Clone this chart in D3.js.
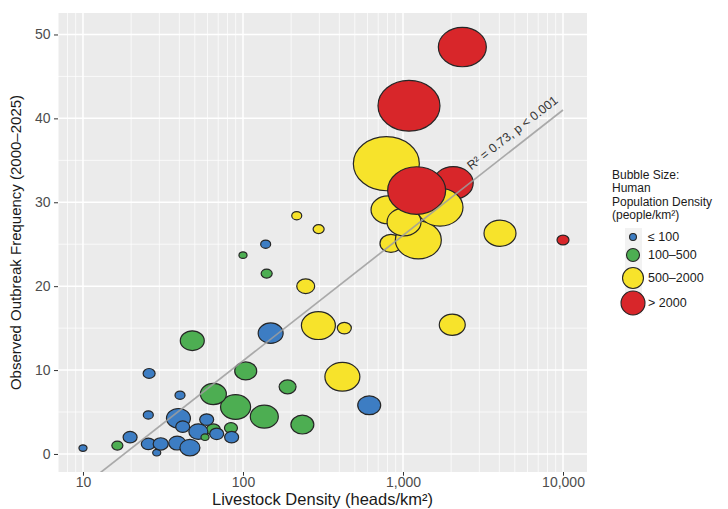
<!DOCTYPE html>
<html><head><meta charset="utf-8">
<script src="https://cdn.jsdelivr.net/npm/d3@7"></script>
<style>body{margin:0;background:#fff}svg{display:block;font-family:"Liberation Sans",Arial,Helvetica,sans-serif}</style>
</head><body><svg id="chart" width="728" height="509"></svg>
<script>
// ---------------- data ----------------
const popClasses   = ["≤ 100", "100–500", "500–2000", "> 2000"];
const classColors  = ["#3D7DC3", "#4DAE52", "#F7E32B", "#D8262A"];
// livestock density (heads/km2), outbreak frequency, population class index, relative bubble size
const livestock  = [16.4, 65.3, 84.1, 89.9, 135.9, 235, 65.3, 104, 190, 48.2, 100, 140.6,
                    10, 19.7, 25.6, 28.9, 30.6, 38.8, 46.6, 25.6, 39.5, 42, 59.3, 52.6, 68.5, 84.9, 25.9, 40.4, 148.9, 138.6, 615,
                    57.9,
                    216.7, 297, 246.6, 296, 430, 418, 2032, 4039, 787, 841, 1247, 806, 1015,
                    1090, 2349, 2060, 1703, 1217, 10000];
const outbreaks  = [1.0, 2.9, 3.1, 5.6, 4.45, 3.5, 7.15, 9.9, 8.0, 13.5, 23.7, 21.5,
                    0.7, 2.0, 1.2, 0.15, 1.2, 1.3, 0.75, 4.65, 4.25, 3.25, 4.1, 2.66, 2.4, 2.0, 9.6, 7.0, 14.4, 25.0, 5.8,
                    2.0,
                    28.4, 26.8, 20.0, 15.3, 15.0, 9.2, 15.4, 26.3, 34.6, 25.1, 25.5, 29.1, 27.65,
                    41.5, 48.5, 32.3, 29.4, 31.4, 25.5];
const popClass   = [1,1,1,1,1,1,1,1,1,1,1,1,
                    0,0,0,0,0,0,0,0,0,0,0,0,0,0,0,0,0,0,0,
                    1,
                    2,2,2,2,2,2,2,2,2,2,2,2,2,
                    3,3,3,2,3,3];
const bubbleSize = [2.8, 4.5, 3.9, 20.7, 18.0, 12.1, 15.5, 11.1, 6.6, 13.2, 1.5, 2.8,
                    1.5, 4.5, 4.5, 1.5, 5.2, 6.6, 9.2, 2.3, 13.2, 4.5, 4.5, 8.3, 4.5, 4.5, 3.3, 2.3, 14.3, 2.3, 12.1,
                    1.5,
                    2.3, 2.8, 7.4, 26.5, 4.5, 28.1, 15.5, 23.5, 100, 11.1, 48.6, 26.5, 26.5,
                    88.2, 52.9, 36.7, 48.6, 77.2, 3.3];
const legendSize = [1.1, 3.9, 10.1, 13.2];

const xTicks      = [10, 100, 1000, 10000];
const xTickLabels = ["10", "100", "1,000", "10,000"];
const yTicks      = [0, 10, 20, 30, 40, 50];
const yMinor      = [5, 15, 25, 35, 45];

const fitIntercept = -18.8, fitSlope = 14.95;   // y = a + b*log10(x)
const fitRange = [10, 10000];
const fitLabel = "R² = 0.73, p < 0.001";

const xTitle = "Livestock Density (heads/km²)";
const yTitle = "Observed Outbreak Frequency (2000–2025)";
const legendTitle = ["Bubble Size:", "Human", "Population Density", "(people/km²)"];

// ---------------- layout ----------------
const W = 728, H = 509;
const m = {left: 58, top: 13, right: 141, bottom: 37};
const pw = W - m.left - m.right, ph = H - m.top - m.bottom;

const svg = d3.select("#chart");
const x = d3.scaleLog().domain([6.98, 14125]).range([0, pw]);
const y = d3.scaleLinear().domain([-2.15, 52.56]).range([ph, 0]);
const r = d3.scaleSqrt().domain([0, 100]).range([0, 33]);
const aspect = 1.22;

const g = svg.append("g").attr("transform", `translate(${m.left},${m.top})`);
g.append("rect").attr("width", pw).attr("height", ph).attr("fill", "#EBEBEB");

svg.append("defs").append("clipPath").attr("id", "panel")
  .append("rect").attr("width", pw).attr("height", ph);

// minor grid
const xMinor = [];
[1, 10, 100, 1000, 10000].forEach(d => { for (let k = 2; k <= 9; k++) { const v = d * k; if (v > 6.98 && v < 14125) xMinor.push(v); } });
g.append("g").selectAll("line").data(xMinor).join("line")
  .attr("x1", d => x(d)).attr("x2", d => x(d)).attr("y1", 0).attr("y2", ph)
  .attr("stroke", "#fff").attr("stroke-width", 0.8).attr("stroke-opacity", 0.9);
g.append("g").selectAll("line").data(yMinor).join("line")
  .attr("y1", d => y(d)).attr("y2", d => y(d)).attr("x1", 0).attr("x2", pw)
  .attr("stroke", "#fff").attr("stroke-width", 0.8).attr("stroke-opacity", 0.9);
// major grid
g.append("g").selectAll("line").data(xTicks).join("line")
  .attr("x1", d => x(d)).attr("x2", d => x(d)).attr("y1", 0).attr("y2", ph)
  .attr("stroke", "#fff").attr("stroke-width", 1.5);
g.append("g").selectAll("line").data(yTicks).join("line")
  .attr("y1", d => y(d)).attr("y2", d => y(d)).attr("x1", 0).attr("x2", pw)
  .attr("stroke", "#fff").attr("stroke-width", 1.5);

// bubbles
const pts = livestock.map((v, i) => ({x: v, y: outbreaks[i], c: popClass[i], s: bubbleSize[i]}));
g.append("g").attr("clip-path", "url(#panel)").selectAll("ellipse").data(pts).join("ellipse")
  .attr("cx", d => x(d.x)).attr("cy", d => y(d.y))
  .attr("rx", d => r(d.s)).attr("ry", d => r(d.s) / aspect)
  .attr("fill", d => classColors[d.c])
  .attr("stroke", "#262626").attr("stroke-width", 1.2);

// regression line
const fitFn = v => fitIntercept + fitSlope * Math.log10(v);
g.append("line").attr("clip-path", "url(#panel)")
  .attr("x1", x(fitRange[0])).attr("y1", y(fitFn(fitRange[0])))
  .attr("x2", x(fitRange[1])).attr("y2", y(fitFn(fitRange[1])))
  .attr("stroke", "#9E9E9E").attr("stroke-width", 1.7).attr("stroke-opacity", 0.85);

// fit label
const ang = Math.atan2(y(fitFn(fitRange[1])) - y(fitFn(fitRange[0])), x(fitRange[1]) - x(fitRange[0]));
const footX = Math.pow(10, 3.461);
const fx = x(footX), fy = y(fitFn(footX));
const off = 9;
g.append("text")
  .attr("transform", `translate(${fx + Math.sin(ang) * off},${fy - Math.cos(ang) * off}) rotate(${ang * 180 / Math.PI})`)
  .attr("font-size", 12.5).attr("fill", "#333").text(fitLabel);

// axes
const xAxis = g.append("g").attr("transform", `translate(0,${ph})`)
  .call(d3.axisBottom(x).tickValues(xTicks).tickFormat((d, i) => xTickLabels[i]).tickSize(3.7).tickPadding(1.8));
const yAxis = g.append("g")
  .call(d3.axisLeft(y).tickValues(yTicks).tickFormat(d3.format("d")).tickSize(4).tickPadding(3.5));
[xAxis, yAxis].forEach(a => {
  a.select(".domain").remove();
  a.selectAll(".tick line").attr("stroke", "#333").attr("stroke-width", 1);
  a.selectAll(".tick text").attr("fill", "#4D4D4D").attr("font-size", 14).attr("font-family", null);
});

// axis titles
svg.append("text").attr("x", m.left + pw / 2).attr("y", 505).attr("text-anchor", "middle")
  .attr("font-size", 16.5).attr("fill", "#1a1a1a").text(xTitle);
svg.append("text").attr("transform", `translate(21,${m.top + ph / 2}) rotate(-90)`).attr("text-anchor", "middle")
  .attr("font-size", 15).attr("fill", "#1a1a1a").text(yTitle);

// legend
const lg = svg.append("g").attr("transform", "translate(612,0)");
lg.selectAll("text.title").data(legendTitle).join("text").attr("class", "title")
  .attr("x", 0).attr("y", (d, i) => 179 + i * 13.3)
  .attr("font-size", 12).attr("fill", "#1a1a1a").text(d => d);
const keyTop = [228, 246, 264, 292], keyBot = [246, 264, 292, 314];
const keyY = [237, 255, 278, 303];
const keys = lg.selectAll("g.key").data(popClasses).join("g").attr("class", "key");
keys.append("rect").attr("x", 13).attr("width", 17).attr("y", (d, i) => keyTop[i]).attr("height", (d, i) => keyBot[i] - keyTop[i])
  .attr("fill", "#F2F2F2");
keys.append("circle").attr("cx", 21).attr("cy", (d, i) => keyY[i]).attr("r", (d, i) => r(legendSize[i]))
  .attr("fill", (d, i) => classColors[i]).attr("stroke", "#262626").attr("stroke-width", 1.1);
keys.append("text").attr("x", 36).attr("y", (d, i) => keyY[i]).attr("dy", "0.35em")
  .attr("font-size", 12.5).attr("fill", "#1a1a1a").text(d => d);
</script></body></html>
